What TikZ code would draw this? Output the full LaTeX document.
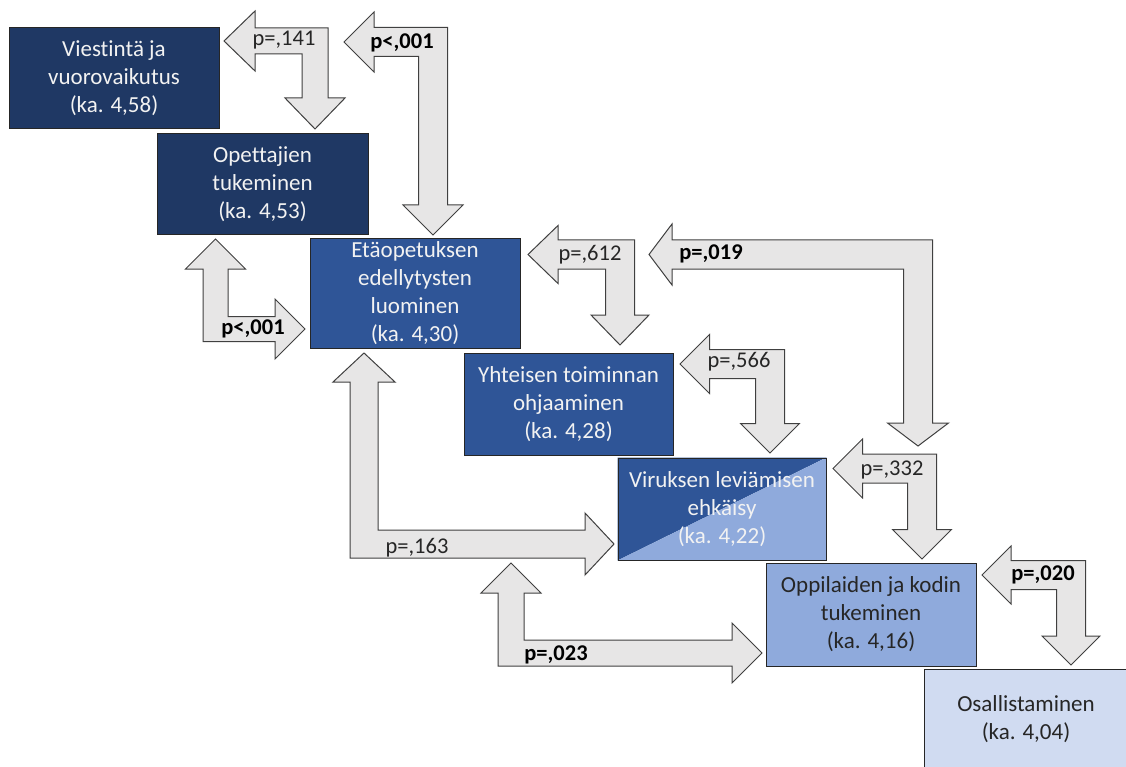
\documentclass[tikz,border=0pt]{standalone}
\usepackage{fontspec}
\setmainfont{Carlito}[Ligatures=NoCommon]
\usetikzlibrary{backgrounds}
\definecolor{navy}{HTML}{1F3864}
\definecolor{midblue}{HTML}{2F5597}
\definecolor{liteblue}{HTML}{8FAADC}
\definecolor{paleblue}{HTML}{D0DBF1}
\definecolor{arrfill}{HTML}{E7E6E6}
\definecolor{arrline}{HTML}{404040}
\definecolor{boxline}{HTML}{262626}
\definecolor{wtxt}{HTML}{F2F2F2}
\definecolor{dtxt}{HTML}{262626}
\tikzset{
  box/.style={draw=boxline, line width=1pt, inner sep=0pt, align=center,
    font=\fontsize{23}{28}\selectfont},
  barrow/.style={draw=arrline, fill=arrfill, line width=1pt, line join=miter},
  plab/.style={anchor=base, inner sep=0pt, font=\fontsize{22.5}{27}\selectfont, text=dtxt},
  pbold/.style={anchor=base, inner sep=0pt, font=\fontsize{22.5}{27}\selectfont\bfseries, text=black},
}
% left-down bent arrow: #1,#2 left tip; #3,#4 down tip; #5 half shaft; #6 half head; #7 head length
\newcommand{\leftdown}[7]{%
  \draw[barrow] (#1,#2) -- ({#1+#7},{#2-#6}) -- ({#1+#7},{#2-#5}) -- ({#3+#5},{#2-#5})
    -- ({#3+#5},{#4-#7}) -- ({#3+#6},{#4-#7}) -- (#3,#4) -- ({#3-#6},{#4-#7})
    -- ({#3-#5},{#4-#7}) -- ({#3-#5},{#2+#5}) -- ({#1+#7},{#2+#5}) -- ({#1+#7},{#2+#6}) -- cycle;}
% up-right bent arrow: #1,#2 up tip; #3,#4 right tip
\newcommand{\upright}[7]{%
  \draw[barrow] (#1,#2) -- ({#1+#6},{#2+#7}) -- ({#1+#5},{#2+#7}) -- ({#1+#5},{#4-#5})
    -- ({#3-#7},{#4-#5}) -- ({#3-#7},{#4-#6}) -- (#3,#4) -- ({#3-#7},{#4+#6})
    -- ({#3-#7},{#4+#5}) -- ({#1-#5},{#4+#5}) -- ({#1-#5},{#2+#7}) -- ({#1-#6},{#2+#7}) -- cycle;}
\begin{document}
\begin{tikzpicture}[x=1pt,y=-1pt]
\begin{scope}[on background layer]
  \fill[white] (0,0) rectangle (1126,767);
\end{scope}
\clip (0,0) rectangle (1126,767);

% boxes
\node[box, fill=navy, text=wtxt, minimum width=210pt, minimum height=101pt] (v) at (114,78.5)
  {Viestintä ja\\vuorovaikutus\\(ka. 4,58)};
\node[box, fill=navy, text=wtxt, minimum width=211pt, minimum height=101pt] (o) at (262.5,184.5)
  {Opettajien\\tukeminen\\(ka. 4,53)};
\node[box, fill=midblue, text=wtxt, minimum width=210pt, minimum height=109pt] (e) at (415,293.5)
  {Etäopetuksen\\edellytysten\\luominen\\(ka. 4,30)};
\node[box, fill=midblue, text=wtxt, minimum width=209pt, minimum height=102pt] (y) at (568.5,404)
  {Yhteisen toiminnan\\ohjaaminen\\(ka. 4,28)};
\node[box, text=wtxt, minimum width=208pt, minimum height=102pt] (r) at (722,509)
  {Viruksen leviämisen\\ehkäisy\\(ka. 4,22)};
\begin{scope}[on background layer]
  \fill[midblue] (r.south west) -- (r.north west) -- (r.north east) -- cycle;
  \fill[liteblue] (r.south west) -- (r.south east) -- (r.north east) -- cycle;
\end{scope}
\node[box, fill=liteblue, text=dtxt, minimum width=210pt, minimum height=103pt] (k) at (871,614.5)
  {Oppilaiden ja kodin\\tukeminen\\(ka. 4,16)};
\node[box, fill=paleblue, text=dtxt, minimum width=204pt, minimum height=101pt] (s) at (1026,719.5)
  {Osallistaminen\\(ka. 4,04)};

% bent block arrows
\leftdown{224}{41}{315}{129}{13}{30}{31}
\leftdown{344}{42}{433}{235}{14.5}{30}{30}
\upright{215.5}{239}{305}{329}{12.5}{30}{30}
\upright{364}{353}{614}{544}{14}{31}{29}
\leftdown{528}{254.5}{620}{345}{14.5}{29}{30}
\leftdown{649}{254.5}{918}{446}{14.5}{30.5}{23}
\leftdown{680}{364}{770}{453}{14.5}{29.5}{29.5}
\leftdown{833}{468.5}{922}{559}{14.5}{29.5}{29.5}
\upright{511}{563}{762}{653}{13}{30}{30}
\leftdown{982}{575}{1071}{665}{14.5}{29}{29}

% labels
\node[plab] (l141) at (284,46) {p=,141};
\node[pbold] (l001a) at (402,49) {p<,001};
\node[pbold] (l001b) at (253,334) {p<,001};
\node[plab] (l163) at (417,553) {p=,163};
\node[plab] (l612) at (590,261) {p=,612};
\node[pbold] (l019) at (711,259) {p=,019};
\node[plab] (l566) at (739,367) {p=,566};
\node[plab] (l332) at (892,475) {p=,332};
\node[pbold] (l023) at (556,660) {p=,023};
\node[pbold] (l020) at (1043,580) {p=,020};
\end{tikzpicture}
\end{document}
